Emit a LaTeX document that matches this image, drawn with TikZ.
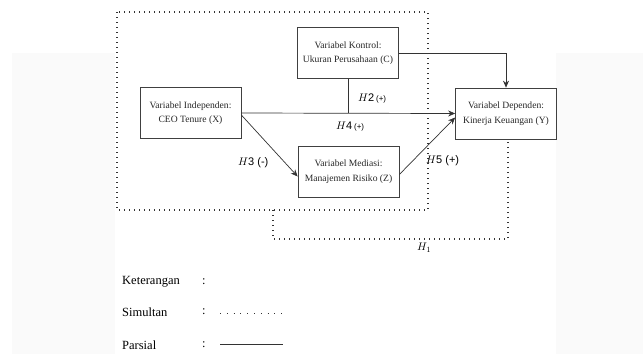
\documentclass[tikz,border=0pt]{standalone}
\usepackage{fontspec}
\setmainfont{Liberation Serif}
\newfontfamily\hsans{Liberation Sans}
\usetikzlibrary{arrows.meta}
\begin{document}
\begin{tikzpicture}[x=1pt,y=-1pt,
  box/.style={draw=black!75,line width=0.7pt,minimum width=101pt,minimum height=51pt,align=center,font=\fontsize{9.6}{14.5}\selectfont,text=black!85,inner sep=1pt},
  conn/.style={draw=black!80,line width=0.7pt},
  arr/.style={conn,-{Stealth[length=7pt,width=6pt]}},
  dots/.style={draw=black!80,line width=1.1pt,dash pattern=on 0.9pt off 4.1pt},
  hlab/.style={font=\hsans\fontsize{11}{12}\selectfont,inner sep=0pt},
  leg/.style={font=\fontsize{12.5}{14}\selectfont,anchor=west,inner sep=0pt}]
\useasboundingbox (0,0) rectangle (643,354);
\fill[black!2] (12,53) rectangle (115,354);
\fill[black!2] (556,53) rectangle (643,354);
% dotted frames
\draw[dots] (117,12) rectangle (428,210);
\coordinate (d1) at (273,210);
\coordinate (d2) at (273,239);
\coordinate (d3) at (508,239);
\coordinate (d4) at (508,141);
\draw[dots] (d1) -- (d2) -- (d3) -- (d4);
% boxes
\node[box] (C) at (348,53) {Variabel Kontrol:\\Ukuran Perusahaan (C)};
\node[box] (X) at (190.5,113) {Variabel Independen:\\CEO Tenure (X)};
\node[box] (Z) at (348.5,171.5) {Variabel Mediasi:\\Manajemen Risiko (Z)};
\node[box] (Y) at (506,113.5) {Variabel Dependen:\\Kinerja Keuangan (Y)};
% connectors
\draw[arr] (X.east) -- (Y.west);
\draw[conn] (C.south) -- (C.south |- X.east);
\draw[arr] (C.east) -| (Y.north);
\draw[arr] (X.east) ++(0,2) -- ([yshift=-5pt]Z.west);
\draw[arr] ([yshift=-3pt]Z.east) -- ([yshift=-4pt]Y.west);
% labels
\node[hlab,anchor=west] (h2) at (358,98) {$H$2\,{\fontsize{8}{9}\selectfont (+)}};
\node[hlab,anchor=west] (h4) at (336,127) {$H$4\,{\fontsize{8}{9}\selectfont (+)}};
\node[hlab,anchor=west] (h3) at (238,163) {$H$3 (-)};
\node[hlab,anchor=west] (h5) at (426,161) {$H$5 (+)};
\node[hlab,anchor=west] (h1) at (417,248) {$H_1$};
% legend
\node[leg] (k) at (122,282) {Keterangan};
\node[leg] (kc) at (202,282) {:};
\node[leg] (s) at (122,312) {Simultan};
\node[leg] (sc) at (202,312) {:};
\node[leg] (p) at (122,345) {Parsial};
\node[leg] (pc) at (202,345) {:};
\coordinate (sl1) at (220,313);
\coordinate (sl2) at (283,313);
\draw[dots,line width=1pt,dash pattern=on 0.9pt off 5.9pt] (sl1) -- (sl2);
\coordinate (pl1) at (220,344);
\coordinate (pl2) at (283,344);
\draw[conn,line width=1pt] (pl1) -- (pl2);
\end{tikzpicture}
\end{document}
